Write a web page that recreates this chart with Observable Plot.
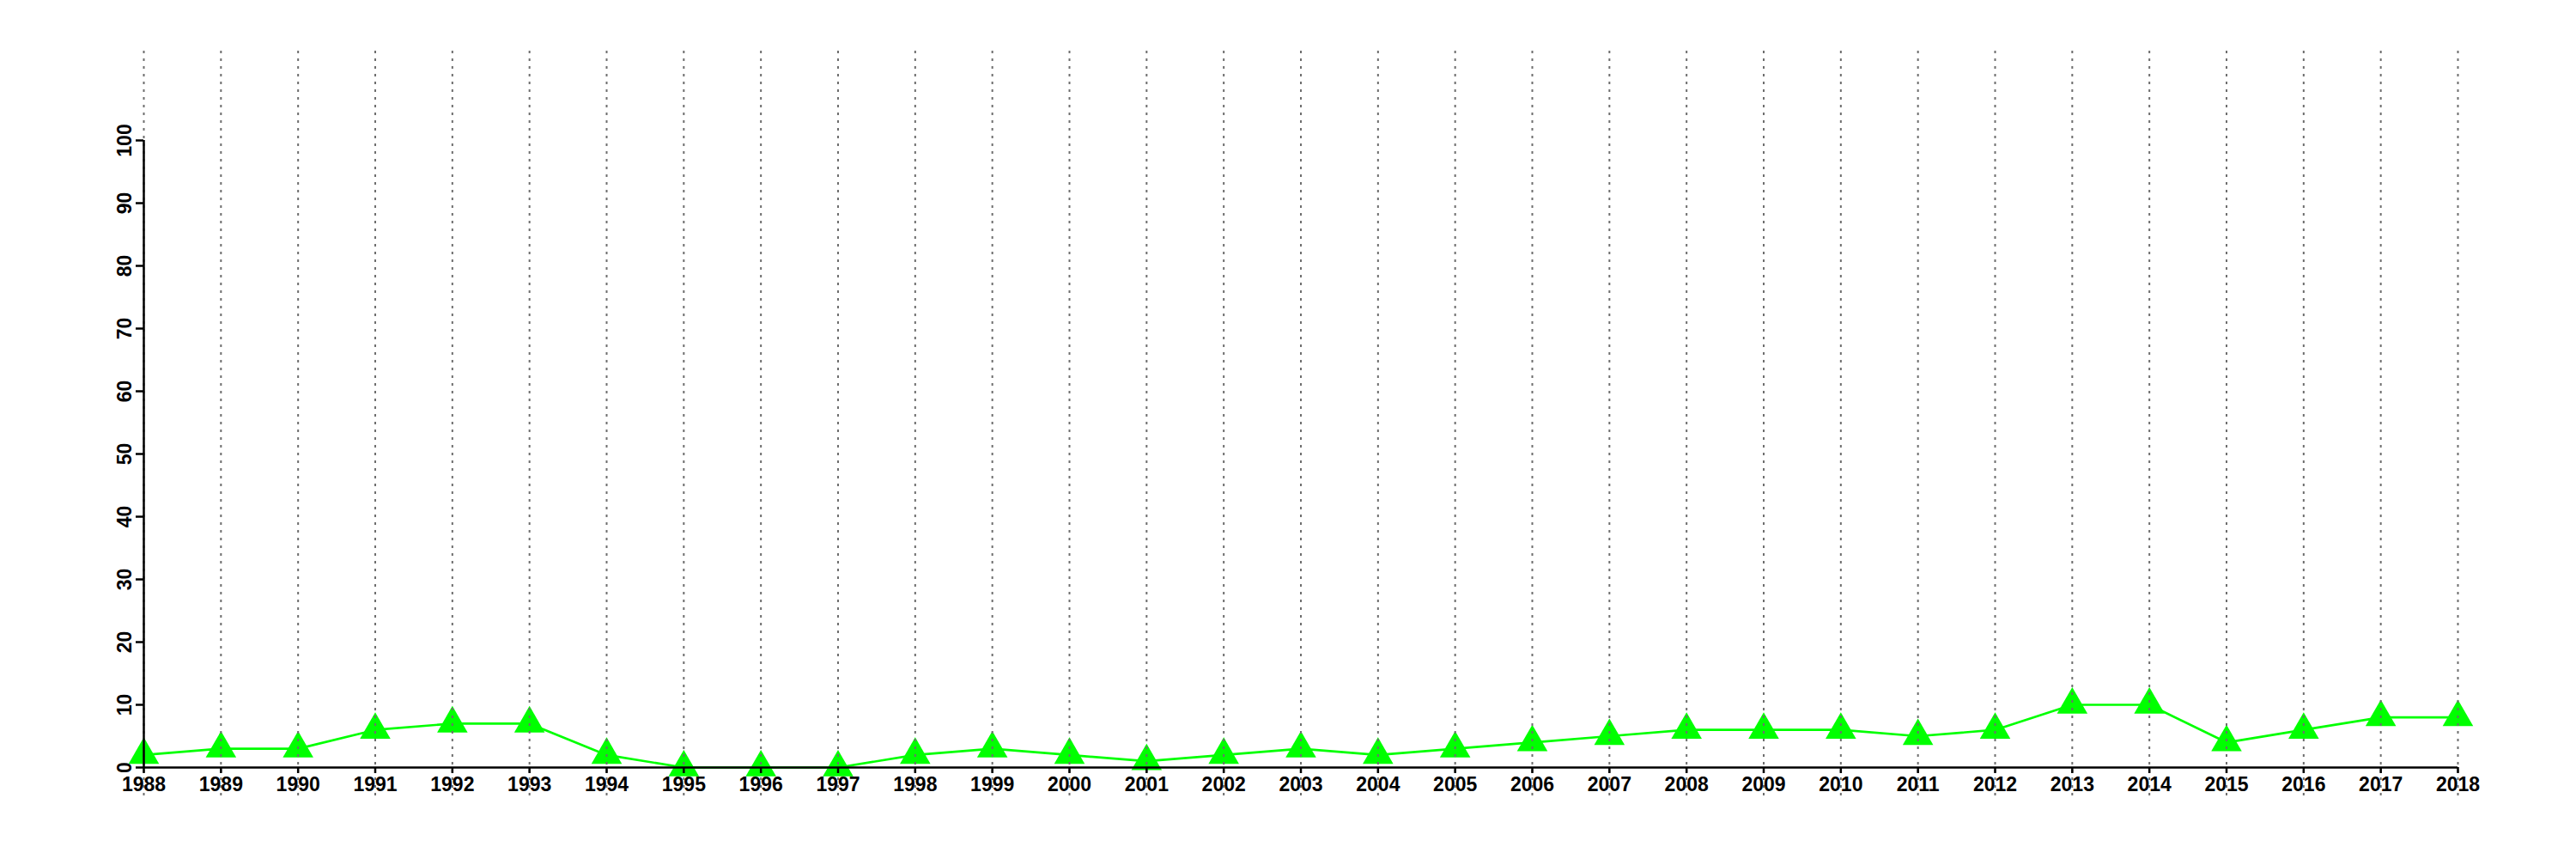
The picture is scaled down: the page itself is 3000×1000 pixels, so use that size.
<!DOCTYPE html>
<html>
<head>
<meta charset="utf-8">
<script src="https://cdn.jsdelivr.net/npm/d3@7"></script>
<script src="https://cdn.jsdelivr.net/npm/@observablehq/plot@0.6"></script>
<style>
  html, body { margin: 0; padding: 0; background: #fff; }
  svg { display: block; }
</style>
</head>
<body>
<div id="chart"></div>
<script>
const years = [1988,1989,1990,1991,1992,1993,1994,1995,1996,1997,1998,1999,2000,2001,2002,2003,2004,2005,2006,2007,2008,2009,2010,2011,2012,2013,2014,2015,2016,2017,2018];
const values = [2,3,3,6,7,7,2,0,0,0,2,3,2,1,2,3,2,3,4,5,6,6,6,5,6,10,10,4,6,8,8];
const yTicks = [0,10,20,30,40,50,60,70,80,90,100];

const data = years.map((y, i) => ({year: y, value: values[i]}));
const font = "'Liberation Sans', Arial, Helvetica, sans-serif";

const chart = Plot.plot({
  width: 3000,
  height: 1000,
  marginLeft: 167,
  marginRight: 138,
  marginTop: 59,
  marginBottom: 107,
  style: {fontFamily: font, background: "#fff"},
  x: {type: "linear", domain: [years[0], years[years.length - 1]]},
  y: {domain: [yTicks[0], yTicks[yTicks.length - 1]], range: [893, 163]},
  marks: [
    Plot.line(data, {x: "year", y: "value", stroke: "#00ff00", strokeWidth: 2.7}),
    Plot.dot(data, {x: "year", y: "value", symbol: "triangle", r: 13.2, fill: "#00ff00", stroke: "none"}),
    Plot.ruleX(years, {stroke: "#6e6e6e", strokeWidth: 2, strokeDasharray: "3,6", insetBottom: -34}),
    Plot.ruleX([years[0]], {y1: yTicks[0], y2: yTicks[yTicks.length - 1], stroke: "#000", strokeWidth: 2.5}),
    Plot.ruleY([yTicks[0]], {x1: years[0], x2: years[years.length - 1], stroke: "#000", strokeWidth: 2.5}),
    Plot.axisY({ticks: yTicks, tickSize: 9, tickPadding: 6, tickRotate: -90, fontSize: 23, fontWeight: "bold", label: null, stroke: "#000", strokeWidth: 2.5, color: "#000"}),
    Plot.axisX({ticks: years, tickSize: 7, tickPadding: 4, fontSize: 23, fontWeight: "bold", label: null, tickFormat: d => String(d), strokeWidth: 2.5, color: "#000"})
  ]
});
document.getElementById("chart").appendChild(chart);
</script>
</body>
</html>
